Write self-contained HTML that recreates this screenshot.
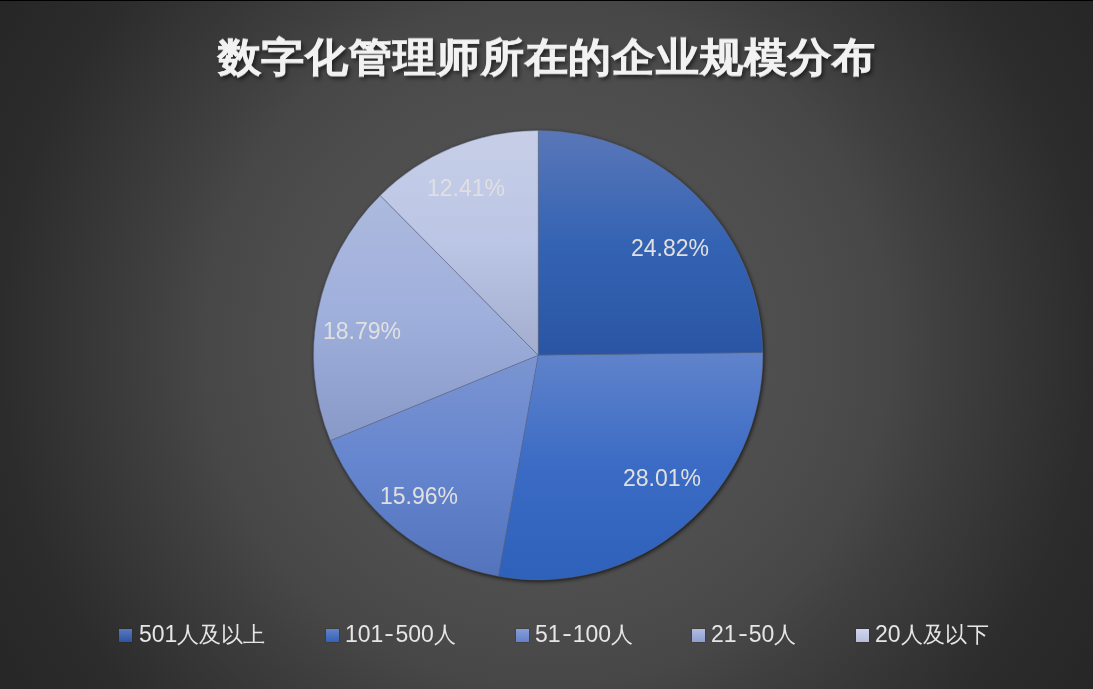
<!DOCTYPE html>
<html><head><meta charset="utf-8">
<style>
html,body{margin:0;padding:0;}
body{width:1093px;height:689px;overflow:hidden;position:relative;
background:radial-gradient(circle at 546px 344px, #525252 0px, #4e4e4e 250px, #474747 344px, #404040 391px, #2c2c2c 546px, #262626 645px);
font-family:"Liberation Sans",sans-serif;}
#topbar{position:absolute;left:0;top:0;width:1093px;height:1px;background:#000;}
#title{position:absolute;left:0;top:26.5px;width:1093px;text-align:center;color:#f2f2f2;font-weight:bold;font-size:43px;line-height:60px;letter-spacing:0.85px;-webkit-text-stroke:0.7px #f2f2f2;will-change:transform;transform:scaleY(0.93);transform-origin:50% 50%;text-shadow:2px 3px 4px rgba(0,0,0,0.6);}
svg{position:absolute;left:0;top:0;}
.lbl{position:absolute;color:#e0e0e0;font-size:23px;line-height:24px;white-space:nowrap;}
.leg{position:absolute;top:622px;color:#e6e6e6;font-size:23px;line-height:24px;white-space:nowrap;}
.sq{position:absolute;width:13px;height:13px;top:629px;box-shadow:0 0 0 0.5px rgba(40,30,20,0.35);}
.c{font-size:22px;}
.h{display:inline-block;padding:0 2.2px;transform:scaleX(1.25) translateY(-0.8px);}
</style></head>
<body>
<div id="topbar"></div>
<div id="title">数字化管理师所在的企业规模分布</div>
<svg width="1093" height="689" viewBox="0 0 1093 689">
<defs>
<linearGradient id="g1" x1="0" y1="0" x2="0" y2="1"><stop offset="0" stop-color="#5977b8"/><stop offset="0.5" stop-color="#3563b3"/><stop offset="1" stop-color="#2955a4"/></linearGradient>
<linearGradient id="g2" x1="0" y1="0" x2="0" y2="1"><stop offset="0" stop-color="#6083cb"/><stop offset="0.5" stop-color="#3b6bc5"/><stop offset="1" stop-color="#2e61ba"/></linearGradient>
<linearGradient id="g3" x1="0" y1="0" x2="0" y2="1"><stop offset="0" stop-color="#7c95d1"/><stop offset="0.5" stop-color="#6585cf"/><stop offset="1" stop-color="#5373bd"/></linearGradient>
<linearGradient id="g4" x1="0" y1="0" x2="0" y2="1"><stop offset="0" stop-color="#adbade"/><stop offset="0.5" stop-color="#9fafdc"/><stop offset="1" stop-color="#8999c7"/></linearGradient>
<linearGradient id="g5" x1="0" y1="0" x2="0" y2="1"><stop offset="0" stop-color="#c7cfe7"/><stop offset="0.5" stop-color="#bbc5e5"/><stop offset="1" stop-color="#a3adce"/></linearGradient>
<filter id="sh" x="-10%" y="-10%" width="120%" height="120%"><feGaussianBlur stdDeviation="2"/></filter>
</defs>
<circle cx="539.2" cy="356.7" r="224.7" fill="#000" opacity="0.75" filter="url(#sh)"/>
<g stroke="#5f6986" stroke-width="0.45" stroke-linejoin="round">
<path fill="url(#g1)" d="M538.2,355.2 L538.20,130.50 A224.7,224.7 0 0 1 762.89,352.69 Z"/>
<path fill="url(#g2)" d="M538.2,355.2 L762.89,352.69 A224.7,224.7 0 0 1 498.38,576.34 Z"/>
<path fill="url(#g3)" d="M538.2,355.2 L498.38,576.34 A224.7,224.7 0 0 1 330.35,440.58 Z"/>
<path fill="url(#g4)" d="M538.2,355.2 L330.35,440.58 A224.7,224.7 0 0 1 380.20,195.43 Z"/>
<path fill="url(#g5)" d="M538.2,355.2 L380.20,195.43 A224.7,224.7 0 0 1 538.20,130.50 Z"/>
</g>
</svg>
<div class="lbl" style="left:631px;top:236px;">24.82%</div>
<div class="lbl" style="left:623px;top:466px;">28.01%</div>
<div class="lbl" style="left:380px;top:484px;">15.96%</div>
<div class="lbl" style="left:323px;top:319px;">18.79%</div>
<div class="lbl" style="left:427px;top:176px;">12.41%</div>

<div class="sq" style="left:119px;background:linear-gradient(#5a78bf,#2c55a5);"></div><div class="leg" style="left:139px;">501<span class="c">人及以上</span></div>
<div class="sq" style="left:326px;background:linear-gradient(#6283c9,#3461b8);"></div><div class="leg" style="left:345px;">101<span class="h">-</span>500<span class="c">人</span></div>
<div class="sq" style="left:516px;background:linear-gradient(#859ed9,#6581c8);"></div><div class="leg" style="left:535px;">51<span class="h">-</span>100<span class="c">人</span></div>
<div class="sq" style="left:692px;background:linear-gradient(#afbce4,#8f9fce);"></div><div class="leg" style="left:711px;">21<span class="h">-</span>50<span class="c">人</span></div>
<div class="sq" style="left:856px;background:linear-gradient(#d0d5ee,#b7bedd);"></div><div class="leg" style="left:875px;">20<span class="c">人及以下</span></div>
</body></html>
